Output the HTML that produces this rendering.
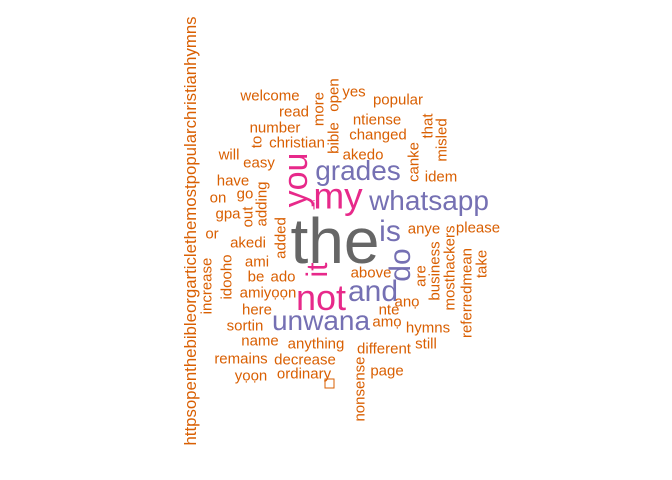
<!DOCTYPE html>
<html><head><meta charset="utf-8"><style>
html,body{margin:0;padding:0;background:#fff;}
svg{display:block;}
text{font-family:"Liberation Sans",Arial,sans-serif;}
</style></head><body>
<svg id="cloud" width="672" height="480" viewBox="0 0 672 480"></svg>
<script>
const words = ["the","you","my","grades","whatsapp","is","do","it","not","and","unwana",
"welcome","read","number","christian","will","easy","have","go","on","gpa","or","akedi","ami","be","ado","amiyọọn","here","sortin","name","remains","yọọn","anything","decrease","ordinary","different","page","still","hymns","amọ","nte","anọ","above","anye","please","yes","popular","ntiense","changed","akedo","idem","i",
"httpsopenthebibleorgarticlethemostpopularchristianhymns","increase","idooho","adding","out","added","more","open","bible","to","that","canke","misled","are","business","mosthackers","referredmean","take","nonsense"];
const sizes = [64,34,37,28,28,30,30,30,36,30,28,
15,15,15,15,15,15,15,15,15,15,15,15,15,15,15,15,15,15,15,15,15,15,15,15,15,15,15,15,15,15,15,15,15,15,15,15,15,15,15,15,13,
16.8,15,15,15,15,15,15,15,15,15,15,15,15,15,15,15,15,15,15];
const colorIdx = [3,2,2,1,1,1,1,2,2,1,1,
0,0,0,0,0,0,0,0,0,0,0,0,0,0,0,0,0,0,0,0,0,0,0,0,0,0,0,0,0,0,0,0,0,0,0,0,0,0,0,0,2,
0,0,0,0,0,0,0,0,0,0,0,0,0,0,0,0,0,0,0];
const palette = ["#D95F02","#7570B3","#E7298A","#666666"];
const rotated = [0,1,0,0,0,0,1,1,0,0,0,
0,0,0,0,0,0,0,0,0,0,0,0,0,0,0,0,0,0,0,0,0,0,0,0,0,0,0,0,0,0,0,0,0,0,0,0,0,0,0,0,0,
1,1,1,1,1,1,1,1,1,1,1,1,1,1,1,1,1,1,1];
// layout centers (x, y) of each word's box
const cx = [335,295,338,358,429,390,399,316,321,373,321,
270,294,275,297,229,259,233,245,218,228,212,248,257,256,283,268,257,245,260,241,251,316,305,304,384,387,426,428,387,389,407,371,424,478,354,398,377,378,363,441,314,
190,206,226,261,247,280,318,333,333,256,427,413,441,420,434,449,466,481,359];
const cy = [240,180,195,170,200,230,265,270,297,290,320,
95,111,127,142,154,162,180,193,197,213,233,242,261,276,276,292,309,325,340,358,375,343,359,373,348,370,343,327,321,309,301,272,228,227,91,99,119,134,154,176,205,
231,286,277,204,217,238,109,95,138,142,126,162,140,276,271,268,293,264,389];
const svg = document.getElementById('cloud');
const NS = 'http://www.w3.org/2000/svg';
for (let i = 0; i < words.length; i++) {
  const t = document.createElementNS(NS, 'text');
  
  
  const fs = sizes[i];
  t.setAttribute('font-size', fs);
  t.setAttribute('fill', palette[colorIdx[i]]);
  t.setAttribute('text-anchor', 'middle');
  if (rotated[i]) {
    const x = cx[i] + fs * 0.36, y = cy[i];
    t.setAttribute('x', x); t.setAttribute('y', y);
    t.setAttribute('transform', 'rotate(-90 ' + x + ' ' + y + ')');
  } else {
    t.setAttribute('x', cx[i]);
    t.setAttribute('y', cy[i] + fs * 0.36);
  }
  t.textContent = words[i];
  svg.appendChild(t);
}
const box = document.createElementNS(NS, 'rect');


box.setAttribute('x', 325); box.setAttribute('y', 379);
box.setAttribute('width', 9); box.setAttribute('height', 9);
box.setAttribute('fill', 'none'); box.setAttribute('stroke', '#D95F02');
svg.appendChild(box);
</script>
</body></html>
